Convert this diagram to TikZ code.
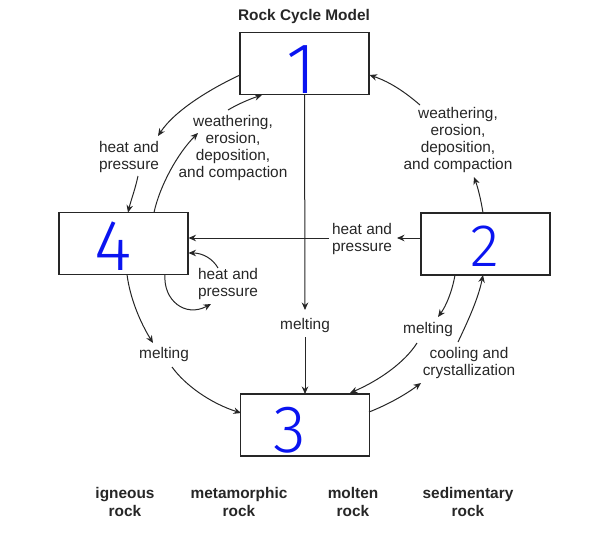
\documentclass[tikz,border=0pt]{standalone}
\usepackage{fontspec}
\setmainfont{Liberation Sans}
\newfontfamily\hand{Fira Sans Light}
\usetikzlibrary{arrows.meta,calc}
\definecolor{ink}{HTML}{262626}
\definecolor{pen}{HTML}{0A14F0}
\tikzset{
  box/.style={draw=ink, line width=1.2pt, minimum width=129pt, minimum height=62pt, inner sep=0pt},
  lbl/.style={text=ink, align=center, font=\fontsize{15.4}{17}\selectfont, inner sep=0pt},
  blbl/.style={text=ink, align=center, font=\fontsize{15.4}{17.5}\selectfont\bfseries, inner sep=0pt},
  con/.style={draw=ink, line width=1pt, -{Stealth[length=7.5pt,width=6.5pt,inset=2.4pt]}},
  digit/.style={text=pen, inner sep=0pt},
}
\begin{document}
\begin{tikzpicture}[x=1pt,y=-1pt]
\useasboundingbox (0,0) rectangle (593,533);
% title
\node[text=ink, font=\fontsize{15.4}{17}\selectfont\bfseries, inner sep=0pt] (title) at (304,17) {Rock Cycle Model};
% boxes
\node[box] (b1) at (304.5,63.5) {};
\node[box] (b4) at (123.5,243.5) {};
\node[box] (b2) at (485.5,244) {};
\node[box] (b3) at (305,425) {};
% handwritten digits
\node[digit, font=\fontsize{72}{72}\hand] (d1) at (301,70) {1};
\node[digit, font=\fontsize{72}{72}\hand] (d4) at (113.5,246) {4};
\node[digit, font=\fontsize{60}{60}\hand] (d2) at (485,246.5) {2};
\node[digit, font=\fontsize{67}{67}\hand] (d3) at (290,430) {3};
% labels
\node[lbl] (L1) at (129,157) {heat and\\pressure};
\node[lbl] (L2) at (233,148) {weathering,\\erosion,\\deposition,\\and compaction};
\node[lbl] (L3) at (362,239.5) {heat and\\pressure};
\node[lbl] (L4) at (458,140) {weathering,\\erosion,\\deposition,\\and compaction};
\node[lbl] (L5) at (228,284.5) {heat and\\pressure};
\node[lbl] (L6) at (164,355) {melting};
\node[lbl] (L7) at (305,326) {melting};
\node[lbl] (L8) at (428,330) {melting};
\node[lbl] (L9) at (469,363.5) {cooling and\\crystallization};
% bottom legend
\node[blbl] (k1) at (125,502) {igneous\\rock};
\node[blbl] (k2) at (239,502) {metamorphic\\rock};
\node[blbl] (k3) at (353,502) {molten\\rock};
\node[blbl] (k4) at (468,502) {sedimentary\\rock};
% connectors
% top-left: igneous -> heat and pressure -> box 4
\draw[con] ([shift={(-64.5,11.5)}]b1.center) .. controls (212,88) and (175,110) .. ([shift={(29,-21)}]L1.center);
\draw[con] ([shift={(9,19)}]L1.center) .. controls (135,190) and (131,200) .. ([shift={(4.5,-31)}]b4.center);
% box 4 -> weathering -> box 1
\draw[con] ([shift={(30.5,-31)}]b4.center) .. controls (160,185) and (178,153) .. ([shift={(-35,-15)}]L2.center);
\draw[con] ([shift={(-5,-38)}]L2.center) .. controls (238,104) and (250,99) .. ([shift={(-42.5,31.5)}]b1.center);
% box 2 -> weathering -> box 1
\draw[con] ([shift={(-2.5,-31)}]b2.center) .. controls (481,200) and (478,188) .. ([shift={(16,37)}]L4.center);
\draw[con] ([shift={(-38,-35)}]L4.center) .. controls (405,92) and (390,82) .. ([shift={(65,11.5)}]b1.center);
% horizontal heat and pressure
\draw[con] ([shift={(-64.5,-6)}]b2.center) -- ([shift={(35,-1.5)}]L3.center);
\draw[con] ([shift={(-33,-1.5)}]L3.center) -- ([shift={(65,-5.5)}]b4.center);
% vertical melting
\draw[con] ([shift={(0,31)}]b1.center) -- ([shift={(0,-16)}]L7.center);
\draw[con] ([shift={(0,11)}]L7.center) -- ([shift={(0,-31)}]b3.center);
% box 4 -> melting -> box 3
\draw[con] ([shift={(3.5,31)}]b4.center) .. controls (130,298) and (140,322) .. ([shift={(-11,-12)}]L6.center);
\draw[con] ([shift={(8,12)}]L6.center) .. controls (185,385) and (210,403) .. ([shift={(-64,-12)}]b3.center);
% box 2 -> melting -> box 3
\draw[con] ([shift={(-30.5,31)}]b2.center) .. controls (452,292) and (446,306) .. ([shift={(10,-13)}]L8.center);
\draw[con] ([shift={(-11,13)}]L8.center) .. controls (405,362) and (380,380) .. ([shift={(45,-32)}]b3.center);
% box 3 -> cooling -> box 2
\draw[con] ([shift={(64,-13)}]b3.center) .. controls (387,405) and (405,395) .. ([shift={(-48,19.5)}]L9.center);
\draw[con] ([shift={(-11,-21.5)}]L9.center) .. controls (466,325) and (478,300) .. ([shift={(-2.5,31)}]b2.center);
% self loop heat and pressure
\draw[con] ([shift={(41.5,31)}]b4.center) .. controls (163,300) and (185,318) .. ([shift={(-17,19.5)}]L5.center);
\draw[con] ([shift={(-10,-16.5)}]L5.center) .. controls (213,259) and (203,253) .. ([shift={(65,9.5)}]b4.center);
\end{tikzpicture}
\end{document}
